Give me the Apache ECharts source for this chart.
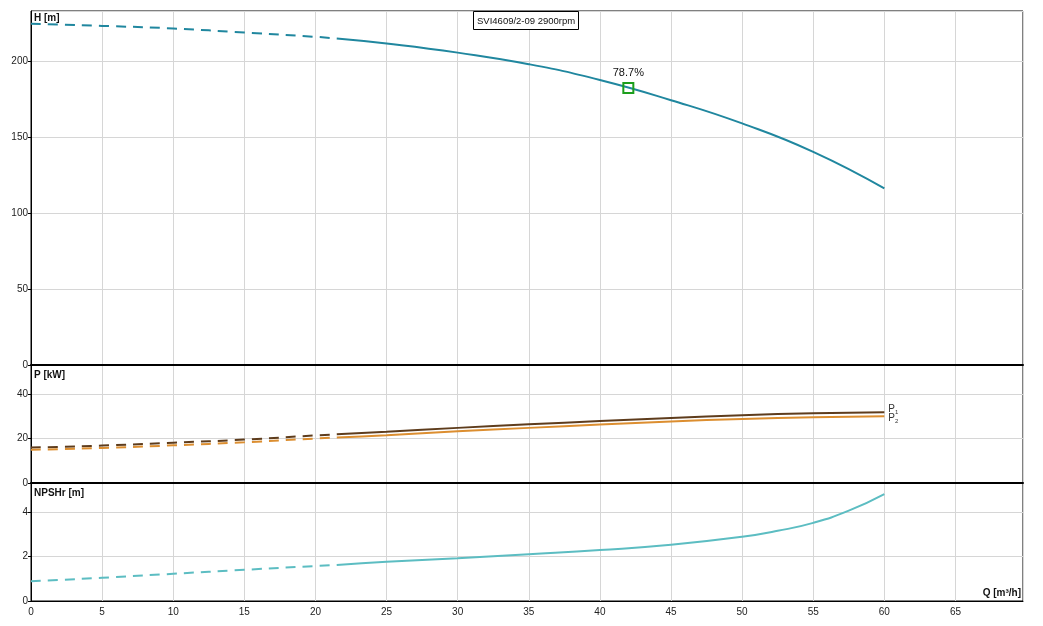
<!DOCTYPE html>
<html>
<head>
<meta charset="utf-8">
<script src="https://cdn.jsdelivr.net/npm/echarts@6/dist/echarts.min.js"></script>
<style>
  html, body { margin: 0; padding: 0; background: #fff; }
  #chart { width: 1043px; height: 626px; }
</style>
</head>
<body>
<div id="chart"></div>
<script>
// flow points (m³/h)
const flowQ = [0, 5, 10, 15, 20, 21.5, 25, 30, 35, 40, 45, 50, 55, 60];
// head H [m]
const headH = [224.6, 223.2, 221.5, 218.8, 216.0, 214.9, 211.6, 205.6, 198.0, 187.6, 174.3, 159.0, 140.3, 116.2];
// power P1 / P2 [kW]
const powerP1 = [16.0, 16.9, 18.2, 19.6, 21.5, 22.0, 23.1, 24.9, 26.5, 28.0, 29.4, 30.6, 31.5, 32.0];
const powerP2 = [15.0, 15.8, 17.0, 18.4, 20.1, 20.6, 21.6, 23.4, 24.9, 26.4, 27.8, 28.9, 29.7, 30.2];
// NPSHr [m]
const npshQ = [0, 5, 10, 15, 20, 21.5, 25, 30, 35, 40, 45, 50, 52.5, 55, 57.5, 60];
const npshR = [0.89, 1.05, 1.23, 1.41, 1.58, 1.63, 1.77, 1.93, 2.11, 2.30, 2.54, 2.90, 3.17, 3.53, 4.08, 4.83];
// below this flow the curves are dashed
const kneeQ = 21.5;
// duty point
const bepQ = 42;
const bepH = 182.4;
const bepEff = '78.7%';
const xTicks = [0, 5, 10, 15, 20, 25, 30, 35, 40, 45, 50, 55, 60, 65];
const titleText = 'SVI4609/2-09 2900rpm';

const chart = echarts.init(document.getElementById('chart'));

// pick the part of a curve between two flows
function part(qs, vs, from, to) {
    const out = [];
    qs.forEach((q, i) => {
        if (q >= from && q <= to) out.push([q, vs[i]]);
    });
    return out;
}

const font = 'Liberation Sans, Arial, sans-serif';
const gridLine = { show: true, lineStyle: { color: '#d6d6d6', width: 1 } };
const dash = [10, 7];

function xAx(idx, showLabels, lineW) {
    return {
        type: 'value', gridIndex: idx, min: 0, max: 69.75, interval: 5,
        axisLine: { show: true, onZero: false, lineStyle: { color: '#000', width: lineW } },
        axisTick: { show: false },
        splitLine: gridLine,
        axisLabel: {
            show: showLabels, showMaxLabel: false, color: '#222', fontSize: 10,
            fontFamily: font, margin: 6,
            formatter: v => xTicks.indexOf(v) >= 0 ? String(v) : ''
        }
    };
}

function yAx(idx, max, interval) {
    return {
        type: 'value', gridIndex: idx, min: 0, max: max, interval: interval,
        axisLine: { show: true, lineStyle: { color: '#000', width: 1 } },
        axisTick: { show: true, length: 3, lineStyle: { color: '#000' } },
        splitLine: gridLine,
        axisLabel: { showMaxLabel: false, color: '#222', fontSize: 10, fontFamily: font, margin: 3 }
    };
}

function curve(name, data, xi, color, dashed, extra) {
    return Object.assign({
        name: name, type: 'line', xAxisIndex: xi, yAxisIndex: xi,
        data: data, smooth: 0.5, symbol: 'none', silent: true,
        lineStyle: { color: color, width: 2, type: dashed ? dash : 'solid' },
        z: 3
    }, extra || {});
}

const hColor = '#20879f';
const p1Color = '#5e3c1c';
const p2Color = '#dc8e30';
const nColor = '#5cbdc2';

const subRich = {
    p: { fontSize: 10, color: '#333', fontFamily: font },
    s: { fontSize: 6, color: '#333', fontFamily: font, padding: [6, 0, 0, 0] }
};

const option = {
    animation: false,
    backgroundColor: '#fff',
    textStyle: { fontFamily: font },
    title: {
        text: titleText, left: 473, top: 11,
        padding: [5, 4, 4, 4],
        borderColor: '#000', borderWidth: 1, backgroundColor: '#fff',
        textStyle: { fontSize: 9.5, fontWeight: 'normal', color: '#111', fontFamily: font }
    },
    grid: [
        { left: 31, right: 20, top: 11, height: 354, show: true, borderColor: '#000', borderWidth: 1 },
        { left: 31, right: 20, top: 365, height: 118, show: true, borderColor: '#000', borderWidth: 1 },
        { left: 31, right: 20, top: 483, height: 118, show: true, borderColor: '#000', borderWidth: 1 }
    ],
    xAxis: [xAx(0, false, 2), xAx(1, false, 2), xAx(2, true, 1)],
    yAxis: [yAx(0, 233, 50), yAx(1, 53.3, 20), yAx(2, 5.33, 2)],
    series: [
        curve('H', part(flowQ, headH, 0, kneeQ), 0, hColor, true),
        curve('H', part(flowQ, headH, kneeQ, 100), 0, hColor, false),
        curve('P1', part(flowQ, powerP1, 0, kneeQ), 1, p1Color, true),
        curve('P1', part(flowQ, powerP1, kneeQ, 100), 1, p1Color, false, {
            endLabel: { show: true, distance: 4, offset: [0, -3], formatter: '{p|P}{s|1}', rich: subRich }
        }),
        curve('P2', part(flowQ, powerP2, 0, kneeQ), 1, p2Color, true),
        curve('P2', part(flowQ, powerP2, kneeQ, 100), 1, p2Color, false, {
            endLabel: { show: true, distance: 4, offset: [0, 2], formatter: '{p|P}{s|2}', rich: subRich }
        }),
        curve('NPSHr', part(npshQ, npshR, 0, kneeQ), 2, nColor, true),
        curve('NPSHr', part(npshQ, npshR, kneeQ, 100), 2, nColor, false),
        {
            type: 'scatter', xAxisIndex: 0, yAxisIndex: 0, silent: true, z: 5,
            data: [[bepQ, bepH]],
            symbol: 'rect', symbolSize: 10,
            itemStyle: { color: 'rgba(0,0,0,0)', borderColor: '#1c9e1c', borderWidth: 2, opacity: 1 },
            label: {
                show: true, position: 'top', distance: 3, formatter: bepEff,
                fontSize: 11, color: '#111', fontFamily: font, textBorderWidth: 0
            }
        }
    ],
    graphic: [
        { type: 'text', left: 34, top: 13, z: 10, style: { text: 'H [m]', font: 'bold 10px ' + font, fill: '#111' } },
        { type: 'text', left: 34, top: 370, z: 10, style: { text: 'P [kW]', font: 'bold 10px ' + font, fill: '#111' } },
        { type: 'text', left: 34, top: 488, z: 10, style: { text: 'NPSHr [m]', font: 'bold 10px ' + font, fill: '#111' } },
        { type: 'text', right: 22, top: 588, z: 10, style: { text: 'Q [m³/h]', font: 'bold 10px ' + font, fill: '#111' } }
    ]
};

chart.setOption(option);
</script>
</body>
</html>
